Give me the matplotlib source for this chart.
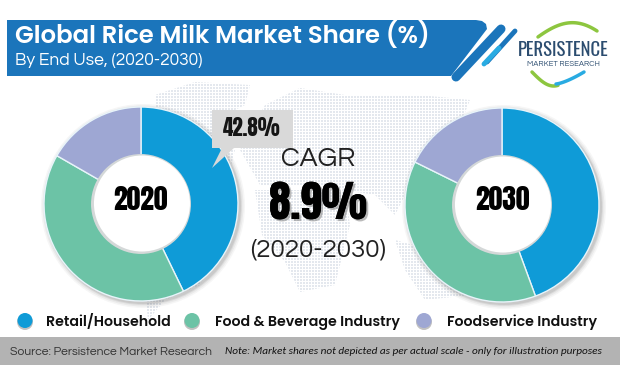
# %% Imports:
import matplotlib
matplotlib.use('Agg')
import matplotlib.pyplot as plt
import matplotlib.patheffects as pe
import numpy as np
from matplotlib.patches import Circle, Polygon, PathPatch
from matplotlib.path import Path

# Data:
segments = ['Retail/Household', 'Food & Beverage Industry', 'Foodservice Industry']
share_2020 = [42.8, 40.5, 16.7]
share_2030 = [44.4, 37.9, 17.7]
colors = ['#0f9bd7', '#6cc3a6', '#9ea7d3']
years = ['2020', '2030']
title = 'Global Rice Milk Market Share (%)'
subtitle = 'By End Use, (2020-2030)'
callout = '42.8%'
cagr = '8.9%'
source = 'Source: Persistence Market Research'
note = 'Note: Market shares not depicted as per actual scale - only for illustration purposes'

# Rough continent outlines for the dotted map behind the charts, in pixels
continents = [
    [(155, 95), (195, 82), (250, 85), (245, 105), (215, 120), (235, 150), (225, 190), (160, 175)],
    [(155, 190), (225, 195), (230, 225), (200, 285), (165, 300), (148, 320), (145, 290)],
    [(265, 105), (300, 88), (345, 95), (420, 95), (470, 100), (450, 150), (415, 175), (395, 215),
     (375, 195), (345, 190), (320, 185), (260, 185), (240, 150)],
    [(255, 190), (345, 190), (350, 225), (335, 285), (300, 292), (285, 262), (262, 235)],
    [(395, 240), (450, 255), (470, 295), (425, 300), (405, 270)],
]

# Fonts, with fallbacks
impact = ['Anton', 'Liberation Sans', 'DejaVu Sans']
gothic = ['Poppins', 'Lato', 'DejaVu Sans']
light = ['Questrial', 'Lato', 'DejaVu Sans']
note_font = ['Carlito', 'Open Sans', 'DejaVu Sans']
logo_font = ['Oswald', 'Roboto', 'DejaVu Sans']

# %% Plotting:
W, H = 620, 366
fig = plt.figure(figsize=(W/100, H/100), dpi=100)
bg = fig.add_axes([0, 0, 1, 1], zorder=0)
bg.set_xlim(0, W)
bg.set_ylim(H, 0)
bg.axis('off')

# dotted map
xx, yy = np.meshgrid(np.arange(W), np.arange(H))
dots = np.ones((H, W, 4))
dots[..., :3] = np.array([228, 232, 238])/255
dots[..., 3] = ((xx % 3 < 2) & (yy % 3 < 2)).astype(float)
im = bg.imshow(dots, extent=(0, W, H, 0), interpolation='nearest', aspect='auto', zorder=1)
verts, codes = [], []
for c in continents:
    verts += c + [c[0]]
    codes += [Path.MOVETO] + [Path.LINETO]*(len(c) - 1) + [Path.CLOSEPOLY]
im.set_clip_path(PathPatch(Path(verts, codes), transform=bg.transData))

# header
header = Polygon([(7, 20), (476, 20), (482, 21), (486, 24), (487, 29), (451, 76), (7, 76)],
                 fc='#1b75bb', ec='none', zorder=2)
bg.add_patch(header)
bg.plot([501, 456], [29, 77], color='#1b75bb', lw=6.5, solid_capstyle='round', zorder=2)
bg.plot([515, 487], [31, 62], color='#1b75bb', lw=3.5, solid_capstyle='round', zorder=2)
bg.plot([499, 484], [48, 64], color='#29abe2', lw=3.5, solid_capstyle='round', zorder=3)

# footer
bg.fill_between([0, W], 337, 365, color='#b3b3b3', lw=0, zorder=2)

# donut shadows
for cx, cy in [(141, 204), (502, 205)]:
    for i, a in zip([5, 3.5, 2, 1], [0.05, 0.07, 0.1, 0.12]):
        bg.add_patch(Circle((cx + 2, cy + 2), 97 + i, fc='#555555', ec='none', alpha=a, zorder=3))

# donuts
for (cx, cy), vals, yr in zip([(141, 204), (502, 205)], [share_2020, share_2030], years):
    r = 97
    ax = fig.add_axes([(cx - r)/W, 1 - (cy + r)/H, 2*r/W, 2*r/H], zorder=2)
    ax.pie(vals, colors=colors, startangle=90, counterclock=False, radius=1,
           wedgeprops=dict(width=0.5, edgecolor='#e8f4fa', linewidth=1))
    ax.set_xlim(-1, 1)
    ax.set_ylim(-1, 1)
    ax.patch.set_alpha(0)
    ax.add_patch(Circle((0, 0), 0.515, fc='#d4d8d8', ec='none', zorder=5))
    ax.add_patch(Circle((0.01, 0.005), 0.495, fc='white', ec='none', zorder=6))

# overlay for all the text
top = fig.add_axes([0, 0, 1, 1], zorder=5)
top.set_xlim(0, W)
top.set_ylim(H, 0)
top.axis('off')
top.patch.set_alpha(0)

top.add_patch(Polygon([(212, 110), (293, 110), (293, 148), (234, 148), (212, 168), (222, 148), (212, 148)],
                      fc='#d9d9d9', ec='none'))
top.text(252, 128, callout, fontsize=15, family=impact, ha='center', va='center', color='#151515')

top.text(15, 36.5, title, fontsize=17.6, fontweight='semibold', family=gothic, color='white', va='center')
top.text(15, 61, subtitle, fontsize=12.5, family=light, color='white', va='center')

top.text(141, 200, years[0], fontsize=20, family=impact, ha='center', va='center', color='black')
top.text(503, 200, years[1], fontsize=20, family=impact, ha='center', va='center', color='black')

top.text(318, 159, 'CAGR', fontsize=19.5, family=light, ha='center', va='center', color='#222222')
top.text(318, 203, cagr, fontsize=31, family=impact, ha='center', va='center', color='black',
         path_effects=[pe.withSimplePatchShadow(offset=(1.5, -1.5), shadow_rgbFace='#777777', alpha=0.5), pe.Normal()])
top.text(318, 250, '(2020-2030)', fontsize=18.6, family=light, ha='center', va='center', color='#222222')

# legend
for x, c, tx, s in zip([25, 192, 424], colors, [46, 215, 447], segments):
    top.add_patch(Circle((x, 322), 8, fc='#999999', ec='none', alpha=0.6))
    top.add_patch(Circle((x, 320.5), 7.5, fc=c, ec='none'))
    top.text(tx, 322, s, fontsize=10.2, fontweight='semibold', family=gothic, va='center', color='#111111')

# footer texts
top.text(10, 352, source, fontsize=8.75, family=light, va='center', color='#333333')
top.text(225, 352, note, fontsize=8.15, style='italic', family=note_font, va='center', color='#111111')

# logo
t = np.linspace(0, 1, 40)
top.plot(538 + 59*t, 45 - 26*np.sin(np.pi*(t*0.62 + 0.1)) + 6*t, color='#8dc63f', lw=2.5, solid_capstyle='round')
top.plot(532 + 26*t, 72 + 14*np.sin(np.pi*t*0.6), color='#8dc63f', lw=2.5, solid_capstyle='round')
top.plot(556 + 28*t, 84 - 12*t**1.4, color='#29abe2', lw=2.5, solid_capstyle='round')
top.text(563, 50, 'PERSISTENCE', fontsize=13.5, fontweight='light', family=logo_font, ha='center', va='center', color='#2b4c6f')
top.text(563, 63.5, 'MARKET RESEARCH', fontsize=5.6, family=light, ha='center', va='center', color='#2b4c6f')

plt.savefig('out.png', dpi=100)
